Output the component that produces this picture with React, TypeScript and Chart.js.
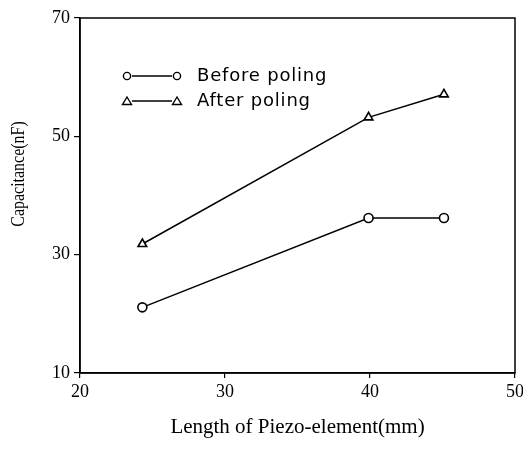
import React, { useEffect, useRef } from "react";
import { Chart, registerables } from "chart.js";

Chart.register(...registerables);

const lengths: number[] = [24.3, 39.9, 45.1];
const beforePoling: number[] = [21.1, 36.2, 36.2];
const afterPoling: number[] = [31.8, 53.2, 57.1];
const seriesNames: string[] = ["Before poling", "After poling"];
const xTitle = "Length of Piezo-element(mm)";
const yTitle = "Capacitance(nF)";

const frameAndLegend = {
  id: "frameAndLegend",
  afterDraw(chart: any) {
    const { ctx, chartArea } = chart;
    ctx.save();
    ctx.strokeStyle = "#000";
    ctx.lineWidth = 1.5;
    ctx.strokeRect(chartArea.left, chartArea.top, chartArea.right - chartArea.left, chartArea.bottom - chartArea.top);

    // y-axis title (tall, condensed serif like the scan)
    ctx.save();
    ctx.translate(19, 174);
    ctx.rotate(-Math.PI / 2);
    ctx.scale(0.84, 1);
    ctx.fillStyle = "#000";
    ctx.font = "19px 'Liberation Serif'";
    ctx.textAlign = "center";
    ctx.textBaseline = "middle";
    ctx.fillText(yTitle, 0, 0);
    ctx.restore();

    const x0 = chartArea.left + 47;
    const x1 = chartArea.left + 97;
    const rows = [chartArea.top + 58, chartArea.top + 83];
    chart.data.datasets.forEach((ds: any, i: number) => {
      const y = rows[i];
      ctx.strokeStyle = "#000";
      ctx.lineWidth = 1.4;
      ctx.beginPath();
      ctx.moveTo(x0 + 5, y);
      ctx.lineTo(x1 - 5, y);
      ctx.stroke();
      [x0, x1].forEach((cx) => {
        ctx.beginPath();
        if (ds.pointStyle === "triangle") {
          ctx.moveTo(cx, y - 4);
          ctx.lineTo(cx + 4.5, y + 3.5);
          ctx.lineTo(cx - 4.5, y + 3.5);
          ctx.closePath();
        } else {
          ctx.arc(cx, y, 3.6, 0, Math.PI * 2);
        }
        ctx.fillStyle = "#fff";
        ctx.fill();
        ctx.stroke();
      });
      ctx.fillStyle = "#000";
      ctx.font = "18px 'DejaVu Sans'";
      (ctx as any).letterSpacing = "0.8px";
      ctx.textBaseline = "middle";
      ctx.textAlign = "left";
      ctx.fillText(ds.label, x1 + 20, y);
      (ctx as any).letterSpacing = "0px";
    });
    ctx.restore();
  },
};

export default function App() {
  const ref = useRef<HTMLCanvasElement | null>(null);
  useEffect(() => {
    document.body.style.margin = "0";
    if (!ref.current) return;
    const mk = (vals: number[]) => vals.map((v, i) => ({ x: lengths[i], y: v }));
    const chart = new Chart(ref.current, {
      type: "line",
      data: {
        datasets: [
          {
            label: seriesNames[0],
            data: mk(beforePoling),
            borderColor: "#000",
            borderWidth: 1.5,
            pointStyle: "circle",
            pointRadius: 4.5,
            pointBorderWidth: 1.6,
            pointBackgroundColor: "#fff",
            pointBorderColor: "#000",
            tension: 0,
          },
          {
            label: seriesNames[1],
            data: mk(afterPoling),
            borderColor: "#000",
            borderWidth: 1.5,
            pointStyle: "triangle",
            pointRadius: 5,
            pointBorderWidth: 1.6,
            pointBackgroundColor: "#fff",
            pointBorderColor: "#000",
            tension: 0,
          },
        ],
      },
      options: {
        animation: false,
        responsive: false,
        layout: { padding: { left: 8, right: 8, top: 18, bottom: 0 } },
        plugins: { legend: { display: false }, tooltip: { enabled: false } },
        scales: {
          x: {
            type: "linear",
            min: 20,
            max: 50,
            afterFit: (s: any) => {
              s.height = 79;
              s.paddingLeft = 0;
              s.paddingRight = 0;
            },
            ticks: {
              stepSize: 10,
              color: "#000",
              padding: 3,
              font: { family: "'Liberation Serif'", size: 18 },
            },
            grid: { drawOnChartArea: false, drawTicks: true, tickLength: 5, color: "#000", lineWidth: 1.2 },
            border: { display: true, color: "#000", width: 1.5 },
            title: {
              display: true,
              text: xTitle,
              color: "#000",
              font: { family: "'Liberation Serif'", size: 21 },
              padding: { top: 0, bottom: 12 },
            },
          },
          y: {
            type: "linear",
            min: 10,
            max: 70,
            afterFit: (s: any) => {
              s.width = 72;
              s.paddingTop = 0;
              s.paddingBottom = 0;
            },
            ticks: {
              stepSize: 20,
              color: "#000",
              padding: 4,
              font: { family: "'Liberation Serif'", size: 18 },
            },
            grid: { drawOnChartArea: false, drawTicks: true, tickLength: 6, color: "#000", lineWidth: 1.2 },
            border: { display: true, color: "#000", width: 1.5 },
            title: { display: false, text: yTitle },
          },
        },
      },
      plugins: [frameAndLegend],
    });
    return () => chart.destroy();
  }, []);
  return (
    <div style={{ width: 523, height: 452 }}>
      <canvas ref={ref} width={523} height={452} style={{ display: "block" }} />
    </div>
  );
}
